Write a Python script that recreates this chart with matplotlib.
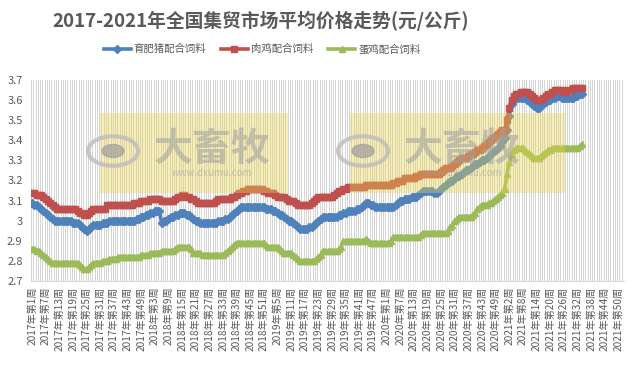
import numpy as np
import matplotlib
matplotlib.use("Agg")
import matplotlib.pyplot as plt
from matplotlib.patches import Rectangle, Circle

plt.rcParams["font.family"] = ["Noto Sans CJK SC", "DejaVu Sans"]

TITLE = "2017-2021年全国集贸市场平均价格走势(元/公斤)"
YEARS = [2017, 2018, 2019, 2020, 2021]
WEEKS_PER_YEAR = [52, 52, 52, 53, 52]
SERIES_NAMES = ["育肥猪配合饲料", "肉鸡配合饲料", "蛋鸡配合饲料"]

# 育肥猪配合饲料
PIG_2017 = [3.09, 3.08, 3.08, 3.07, 3.06, 3.05, 3.04, 3.03, 3.02, 3.01,
            3.00, 3.00, 3.00, 3.00, 3.00, 3.00, 3.00, 3.00, 2.99, 2.99,
            2.99, 2.98, 2.97, 2.96, 2.95, 2.96, 2.97, 2.98, 2.98, 2.98,
            2.98, 2.99, 2.99, 2.99, 3.00, 3.00, 3.00, 3.00, 3.00, 3.00,
            3.00, 3.00, 3.00, 3.00, 3.00, 3.00, 3.01, 3.01, 3.02, 3.02,
            3.03, 3.03]
PIG_2018 = [3.04, 3.04, 3.05, 3.05, 3.05,
            2.99, 3.00, 3.00, 3.01, 3.02, 3.02, 3.03, 3.03, 3.04, 3.04,
            3.04, 3.03, 3.03, 3.02, 3.01, 3.00, 3.00, 2.99, 2.99, 2.99,
            2.99, 2.99, 2.99, 2.99, 2.99, 3.00, 3.00, 3.00, 3.01, 3.01,
            3.02, 3.03, 3.04, 3.05, 3.06, 3.07, 3.07, 3.07, 3.07, 3.07,
            3.07, 3.07, 3.07, 3.07, 3.07, 3.07, 3.06]
PIG_2019 = [3.06, 3.06, 3.05, 3.05, 3.04, 3.03, 3.03, 3.02, 3.01, 3.00,
            3.00, 2.99, 2.98, 2.97, 2.96, 2.96, 2.96, 2.96, 2.97, 2.97,
            2.98, 2.99, 3.00, 3.01, 3.02, 3.02, 3.02, 3.02, 3.02, 3.02,
            3.02, 3.03, 3.03, 3.04, 3.04, 3.05, 3.05, 3.05, 3.05, 3.06,
            3.06, 3.07, 3.08, 3.09, 3.09, 3.08, 3.08, 3.07, 3.07, 3.07,
            3.07, 3.07]
PIG_2020 = [3.07, 3.07, 3.07, 3.07, 3.08, 3.09, 3.10, 3.10, 3.11, 3.11,
            3.11, 3.12, 3.12, 3.12, 3.13, 3.14, 3.15, 3.15, 3.15, 3.15,
            3.15, 3.14, 3.14, 3.15, 3.16, 3.17, 3.18, 3.19, 3.20, 3.20,
            3.21, 3.22, 3.22, 3.23, 3.24, 3.25, 3.25, 3.26, 3.27, 3.28,
            3.28, 3.29, 3.30, 3.30, 3.31, 3.32, 3.33, 3.34, 3.35, 3.36,
            3.37, 3.39, 3.41]
PIG_2021 = [3.45, 3.52, 3.58, 3.60, 3.61, 3.61, 3.61, 3.61, 3.61, 3.60,
            3.59, 3.58, 3.57, 3.56, 3.56, 3.57, 3.58, 3.59, 3.60, 3.60,
            3.61, 3.61, 3.62, 3.62, 3.61, 3.61, 3.61, 3.61, 3.61, 3.61,
            3.62, 3.62, 3.63, 3.63]

# 肉鸡配合饲料
BROILER_2017 = [3.14, 3.14, 3.13, 3.13, 3.13, 3.12, 3.11, 3.10, 3.09, 3.08,
                3.07, 3.06, 3.06, 3.06, 3.06, 3.06, 3.06, 3.06, 3.06, 3.06,
                3.05, 3.04, 3.04, 3.03, 3.03, 3.04, 3.05, 3.06, 3.06, 3.06,
                3.06, 3.06, 3.06, 3.08, 3.08, 3.08, 3.08, 3.08, 3.08, 3.08,
                3.08, 3.08, 3.08, 3.08, 3.08, 3.09, 3.09, 3.09, 3.10, 3.10,
                3.10, 3.10]
BROILER_2018 = [3.11, 3.11, 3.11, 3.11, 3.11, 3.10, 3.10, 3.10, 3.10, 3.10,
                3.10, 3.11, 3.12, 3.12, 3.13, 3.13, 3.12, 3.12, 3.11, 3.11,
                3.10, 3.09, 3.09, 3.09, 3.09, 3.09, 3.09, 3.09, 3.09, 3.10,
                3.11, 3.11, 3.11, 3.11, 3.11, 3.11, 3.12, 3.12, 3.13, 3.14,
                3.14, 3.15, 3.15, 3.16, 3.16, 3.16, 3.16, 3.16, 3.16, 3.16,
                3.15, 3.15]
BROILER_2019 = [3.14, 3.14, 3.14, 3.13, 3.12, 3.12, 3.12, 3.12, 3.11, 3.10,
                3.10, 3.10, 3.09, 3.08, 3.08, 3.08, 3.08, 3.08, 3.08, 3.09,
                3.10, 3.11, 3.12, 3.12, 3.12, 3.12, 3.12, 3.12, 3.12, 3.13,
                3.14, 3.15, 3.15, 3.16, 3.16, 3.17, 3.17, 3.17, 3.17, 3.17,
                3.17, 3.17, 3.17, 3.18, 3.18, 3.18, 3.18, 3.18, 3.18, 3.18,
                3.18, 3.18]
BROILER_2020 = [3.18, 3.18, 3.18, 3.19, 3.19, 3.20, 3.20, 3.20, 3.21, 3.21,
                3.21, 3.21, 3.21, 3.22, 3.22, 3.23, 3.23, 3.23, 3.23, 3.23,
                3.23, 3.23, 3.23, 3.23, 3.24, 3.25, 3.26, 3.26, 3.26, 3.27,
                3.28, 3.29, 3.30, 3.31, 3.31, 3.31, 3.32, 3.33, 3.33, 3.34,
                3.35, 3.35, 3.36, 3.37, 3.38, 3.39, 3.40, 3.41, 3.42, 3.43,
                3.44, 3.45, 3.45]
BROILER_2021 = [3.50, 3.56, 3.60, 3.62, 3.63, 3.63, 3.64, 3.64, 3.64, 3.64,
                3.63, 3.62, 3.61, 3.60, 3.60, 3.60, 3.61, 3.62, 3.63, 3.63,
                3.64, 3.65, 3.65, 3.65, 3.65, 3.64, 3.64, 3.65, 3.65, 3.66,
                3.66, 3.66, 3.66, 3.66]

# 蛋鸡配合饲料
LAYER_2017 = [2.86, 2.86, 2.85, 2.85, 2.84, 2.83, 2.82, 2.81, 2.80, 2.79,
              2.79, 2.79, 2.79, 2.79, 2.79, 2.79, 2.79, 2.79, 2.79, 2.79,
              2.79, 2.78, 2.77, 2.76, 2.76, 2.77, 2.78, 2.79, 2.79, 2.79,
              2.79, 2.80, 2.80, 2.80, 2.81, 2.81, 2.81, 2.81, 2.82, 2.82,
              2.82, 2.82, 2.82, 2.82, 2.82, 2.82, 2.82, 2.82, 2.83, 2.83,
              2.83, 2.83]
LAYER_2018 = [2.84, 2.84, 2.84, 2.84, 2.84, 2.85, 2.85, 2.85, 2.85, 2.85,
              2.85, 2.86, 2.87, 2.87, 2.87, 2.87, 2.87, 2.87, 2.86, 2.84,
              2.84, 2.84, 2.84, 2.83, 2.83, 2.83, 2.83, 2.83, 2.83, 2.83,
              2.83, 2.83, 2.83, 2.84, 2.85, 2.86, 2.87, 2.88, 2.89, 2.89,
              2.89, 2.89, 2.89, 2.89, 2.89, 2.89, 2.89, 2.89, 2.89, 2.89,
              2.89, 2.88]
LAYER_2019 = [2.87, 2.87, 2.87, 2.87, 2.87, 2.86, 2.85, 2.84, 2.84, 2.84,
              2.84, 2.83, 2.82, 2.81, 2.80, 2.80, 2.80, 2.80, 2.80, 2.80,
              2.80, 2.81, 2.82, 2.83, 2.85, 2.85, 2.85, 2.85, 2.85, 2.85,
              2.85, 2.86, 2.87, 2.90, 2.90, 2.90, 2.90, 2.90, 2.90, 2.90,
              2.90, 2.90, 2.90, 2.91, 2.90, 2.89, 2.89, 2.89, 2.89, 2.89,
              2.89, 2.89]
LAYER_2020 = [2.89, 2.89, 2.90, 2.92, 2.92, 2.92, 2.92, 2.92, 2.92, 2.92,
              2.92, 2.92, 2.92, 2.92, 2.92, 2.93, 2.94, 2.94, 2.94, 2.94,
              2.94, 2.94, 2.94, 2.94, 2.94, 2.94, 2.94, 2.95, 2.97, 2.98,
              3.00, 3.01, 3.02, 3.02, 3.02, 3.02, 3.02, 3.02, 3.03, 3.04,
              3.06, 3.07, 3.08, 3.08, 3.08, 3.09, 3.09, 3.10, 3.11, 3.12,
              3.13, 3.14, 3.16]
LAYER_2021 = [3.23, 3.29, 3.33, 3.35, 3.36, 3.36, 3.36, 3.36, 3.35, 3.34,
              3.33, 3.32, 3.31, 3.31, 3.31, 3.32, 3.33, 3.34, 3.35, 3.35,
              3.36, 3.36, 3.36, 3.36, 3.36, 3.36, 3.36, 3.36, 3.36, 3.36,
              3.36, 3.36, 3.37, 3.38]

pig = np.array(PIG_2017 + PIG_2018 + PIG_2019 + PIG_2020 + PIG_2021)
broiler = np.array(BROILER_2017 + BROILER_2018 + BROILER_2019 + BROILER_2020 + BROILER_2021)
layer = np.array(LAYER_2017 + LAYER_2018 + LAYER_2019 + LAYER_2020 + LAYER_2021)

categories = [f"{y}年第{w}周" for y, n in zip(YEARS, WEEKS_PER_YEAR) for w in range(1, n + 1)]
n_cat = len(categories)

W, H = 635, 375
fig = plt.figure(figsize=(W / 100, H / 100), dpi=100)
ax = fig.add_axes([31 / W, 1 - 281 / H, (624 - 31) / W, (281 - 80) / H])

# excel style category gridlines
for b in np.arange(-0.5, n_cat + 0.5, 1):
    ax.axvline(b, color="#d4d4d4", lw=0.7, zorder=0)

styles = [
    (pig, "#4F81BD", "D", 4.0),
    (broiler, "#C0504D", "s", 4.2),
    (layer, "#9BBB59", "^", 4.6),
]
for (vals, color, marker, ms), name in zip(styles, SERIES_NAMES):
    x = np.arange(len(vals))
    ax.plot(x, vals, color=color, lw=2.6, marker=marker, ms=ms,
            mec=color, mfc=color, label=name, zorder=3)

ax.set_xlim(-0.5, n_cat - 0.5)
ax.set_ylim(2.7, 3.7)
ax.set_yticks(np.arange(2.7, 3.71, 0.1))
ax.set_yticklabels([f"{v:g}" for v in np.round(np.arange(2.7, 3.71, 0.1), 1)])
ticks = np.arange(0, n_cat, 6)
ax.set_xticks(ticks)
ax.set_xticklabels([categories[i] for i in ticks], rotation=90, fontsize=7.3, color="#595959")
ax.tick_params(axis="both", length=0, colors="#595959")
ax.tick_params(axis="y", labelsize=8, pad=6)
ax.tick_params(axis="x", pad=4)
for s in ["top", "right", "left"]:
    ax.spines[s].set_visible(False)
ax.spines["bottom"].set_color("#d9d9d9")

fig.text(261 / W, 1 - 21 / H, TITLE, ha="center", va="center",
         fontsize=13.5, fontweight="bold", color="#595959")
ax.legend(loc="center", bbox_to_anchor=(262 / W, 1 - 49 / H), bbox_transform=fig.transFigure,
          ncol=3, frameon=False, fontsize=7.5, handlelength=2.6, numpoints=1,
          columnspacing=1.4, handletextpad=0.3, labelcolor="#595959")

# watermark boxes
for (x0, x1) in [(100, 288), (350, 565)]:
    fig.add_artist(Rectangle((x0 / W, 1 - 193 / H), (x1 - x0) / W, 80 / H,
                             transform=fig.transFigure, color="#E8D44D", alpha=0.38,
                             lw=0, zorder=5))
    cx = x0 + 13
    fig.add_artist(Circle((cx / W, 1 - 151 / H), 25 / W, transform=fig.transFigure,
                          fill=False, ec="#bdbdbd", lw=3, alpha=0.8, zorder=6))
    fig.add_artist(Circle((cx / W, 1 - 151 / H), 11 / W, transform=fig.transFigure,
                          color="#9e9e9e", alpha=0.7, zorder=6))
    fig.text((x0 + 112) / W, 1 - 149 / H, "大畜牧", ha="center", va="center",
             fontsize=28, fontweight="bold", color="#a0a0a0", alpha=0.55, zorder=6)
    fig.text((x0 + 112) / W, 1 - 173 / H, "www.dxumu.com", ha="center", va="center",
             fontsize=7, color="#a0a0a0", alpha=0.55, zorder=6)

fig.savefig("out.png", dpi=100)
